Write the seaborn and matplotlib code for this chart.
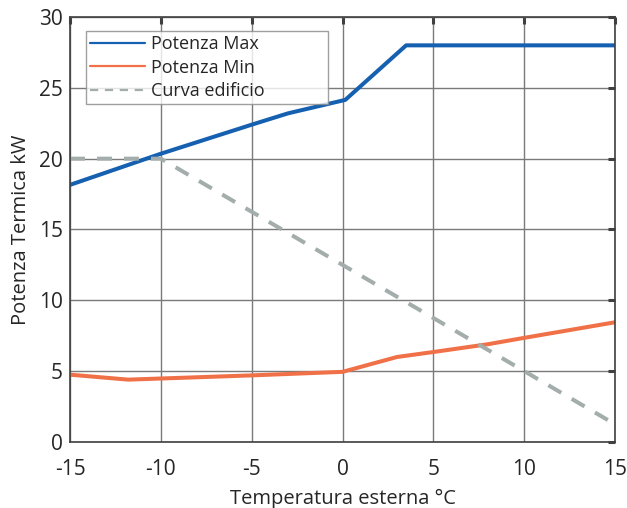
import seaborn as sns
import matplotlib.pyplot as plt
import pandas as pd

# Données
temp_max = [-15, -10, -5, -3, 0.15, 3.5, 15]
potenza_max = [18.15, 20.35, 22.4, 23.2, 24.15, 28.0, 28.0]

temp_min = [-15, -11.8, -5, 0, 3, 5, 8, 10, 15]
potenza_min = [4.75, 4.4, 4.7, 4.95, 6.0, 6.35, 6.9, 7.35, 8.45]

temp_edificio = [-15, -10, 15]
curva_edificio = [20, 20, 1.25]

sns.set_style("white")
plt.rcParams['font.family'] = ['Open Sans', 'DejaVu Sans']
plt.rcParams['axes.unicode_minus'] = False

fig = plt.figure(figsize=(6.27, 5.08), dpi=100)
ax = fig.add_axes([0.1117, 0.13, 0.8693, 0.8365])

sns.lineplot(x=temp_max, y=potenza_max, ax=ax, color="#1560b0", lw=2.9,
             label="Potenza Max")
sns.lineplot(x=temp_min, y=potenza_min, ax=ax, color="#f07048", lw=2.9,
             label="Potenza Min")
sns.lineplot(x=temp_edificio, y=curva_edificio, ax=ax, color="#a3adab", lw=2.9,
             label="Curva edificio", dashes=False, linestyle=(0, (3.7, 3)))

ax.set_xlim(-15, 15)
ax.set_ylim(0, 30)
ax.set_xticks(range(-15, 16, 5))
ax.set_yticks(range(0, 31, 5))
ax.grid(True, color="#7a7a7a", lw=1)
ax.set_axisbelow(True)
ax.tick_params(direction="in", length=5, width=2.2, color="#404040",
               top=True, right=True, labelsize=15)
ax.tick_params(axis="x", pad=12)
ax.tick_params(axis="y", pad=5)
for s in ax.spines.values():
    s.set_color("#404040")
    s.set_linewidth(1.2)

ax.set_xlabel("Temperatura esterna °C", fontsize=14.5, labelpad=7)
ax.set_ylabel("Potenza Termica kW", fontsize=14.5, labelpad=6)

leg = ax.legend(loc="upper left", bbox_to_anchor=(0.029, 0.968, 0.444, 0.0),
                mode="expand", fontsize=13, frameon=True, fancybox=False,
                borderpad=0.25, labelspacing=0.3, handlelength=3.0,
                handletextpad=0.35, borderaxespad=0)
leg.get_frame().set_edgecolor("#888888")
leg.get_frame().set_linewidth(1)
for h in leg.get_lines():
    h.set_linewidth(1.6)

fig.savefig("out.png", dpi=100)
